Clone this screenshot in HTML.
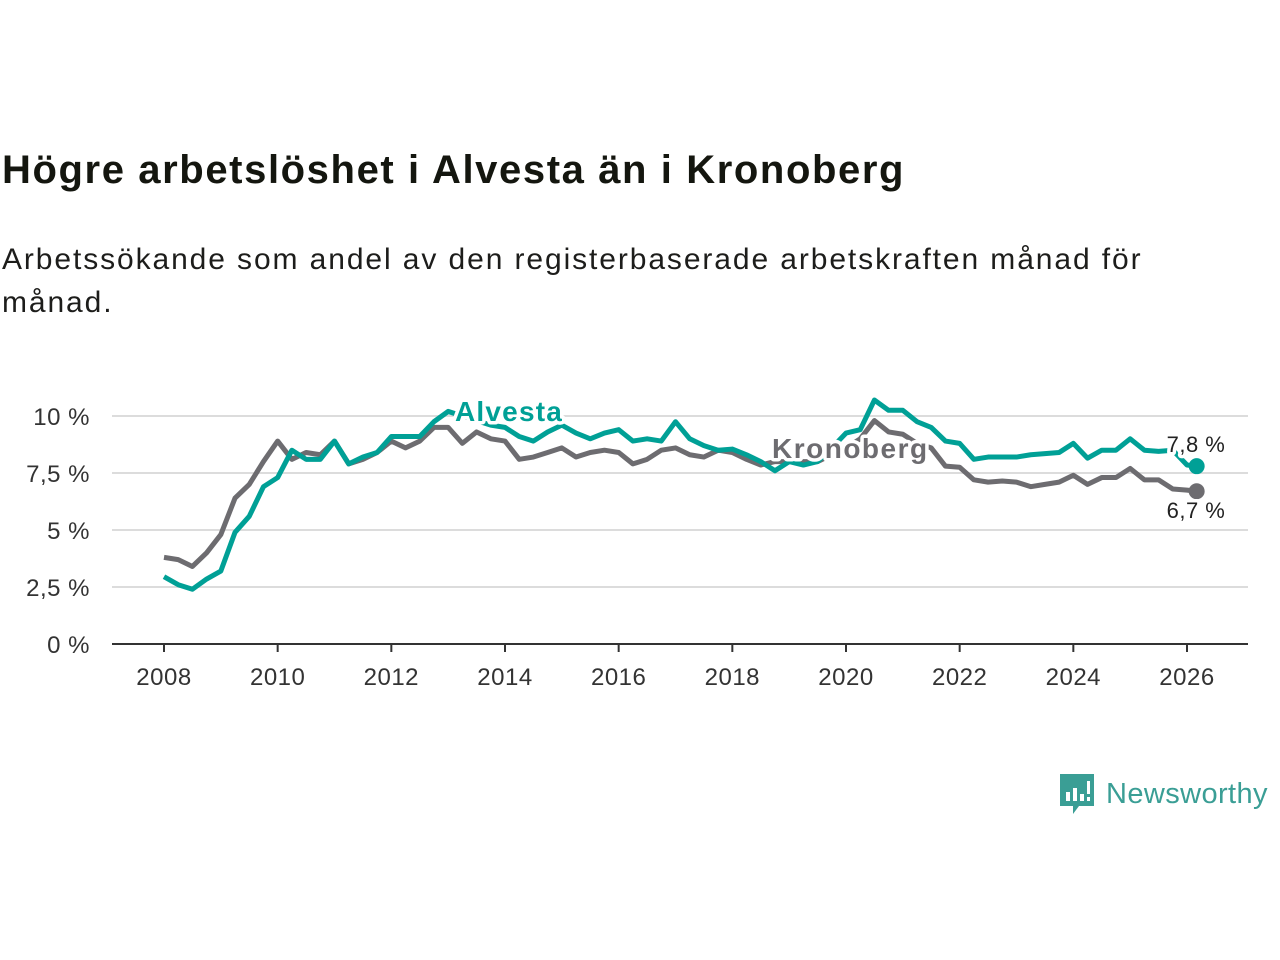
<!DOCTYPE html>
<html><head><meta charset="utf-8"><style>
body{margin:0;width:1280px;height:960px;background:#fff;font-family:"Liberation Sans","DejaVu Sans",sans-serif;overflow:hidden}
#title{position:absolute;left:2px;top:148px;font-size:40px;font-weight:bold;color:#14160f;margin:0;letter-spacing:1.6px}
#sub{position:absolute;left:2px;top:238px;font-size:30px;color:#1d1d1b;line-height:43px;width:1200px;letter-spacing:1.9px}
svg{position:absolute;left:0;top:0}
</style></head><body>
<h1 id="title">Högre arbetslöshet i Alvesta än i Kronoberg</h1>
<div id="sub">Arbetssökande som andel av den registerbaserade arbetskraften månad för månad.</div>
<svg id="chart" width="1280" height="960"></svg>
<script>
const years=[2008,2010,2012,2014,2016,2018,2020,2022,2024,2026];
const yTicks=[0,2.5,5,7.5,10];
const yTickLabels=["0 %","2,5 %","5 %","7,5 %","10 %"];
const startYear=2008, step=0.25;
const kronoberg=[3.8,3.7,3.4,4.0,4.8,6.4,7.0,8.0,8.9,8.1,8.4,8.3,8.9,7.9,8.1,8.4,8.9,8.6,8.9,9.5,9.5,8.8,9.3,9.0,8.9,8.1,8.2,8.4,8.6,8.2,8.4,8.5,8.4,7.9,8.1,8.5,8.6,8.3,8.2,8.5,8.4,8.1,7.85,8.0,8.0,8.0,8.0,8.3,8.6,9.0,9.8,9.3,9.2,8.8,8.6,7.8,7.75,7.2,7.1,7.15,7.1,6.9,7.0,7.1,7.4,7.0,7.3,7.3,7.7,7.2,7.2,6.8,6.75];
const alvesta=[2.95,2.6,2.4,2.85,3.2,4.9,5.6,6.9,7.3,8.5,8.1,8.1,8.9,7.9,8.2,8.4,9.1,9.1,9.1,9.75,10.2,10.0,9.8,9.6,9.5,9.1,8.9,9.3,9.6,9.25,9.0,9.25,9.4,8.9,9.0,8.9,9.75,9.0,8.7,8.5,8.55,8.3,8.0,7.6,8.0,7.85,8.0,8.6,9.25,9.4,10.7,10.25,10.25,9.75,9.5,8.9,8.8,8.1,8.2,8.2,8.2,8.3,8.35,8.4,8.8,8.15,8.5,8.5,9.0,8.5,8.45,8.5,7.85];
const lastDate=2026.17, lastK=6.7, lastA=7.8;
const X=v=>164+(v-2008)*(1187-164)/18;
const Y=v=>644-v*22.8;
const svg=document.getElementById('chart');
const NS='http://www.w3.org/2000/svg';
function mk(t,a,p){const e=document.createElementNS(NS,t);for(const k in a)e.setAttribute(k,a[k]);(p||svg).appendChild(e);return e;}
yTicks.forEach((t,i)=>{
  if(t>0){const g=mk('line',{x1:112,x2:1248,y1:Y(t),y2:Y(t),stroke:'#dcdcdc','stroke-width':2});
  
  }
  const l=mk('text',{x:90,y:Y(t)+9,'text-anchor':'end','font-size':24,fill:'#333','letter-spacing':0.5});
  l.textContent=yTickLabels[i];
  
  
});
const ax=mk('line',{x1:112,x2:1248,y1:644,y2:644,stroke:'#333','stroke-width':2});


years.forEach(yv=>{
  const tk=mk('line',{x1:X(yv),x2:X(yv),y1:644,y2:652,stroke:'#333','stroke-width':2});
  
  
  const l=mk('text',{x:X(yv),y:685,'text-anchor':'middle','font-size':24,fill:'#333','letter-spacing':0.5});
  l.textContent=yv;
  
  
});
function line(arr,last,col,name){
  const pts=arr.map((v,i)=>X(startYear+i*step)+','+Y(v));
  pts.push(X(lastDate)+','+Y(last));
  const p=mk('polyline',{points:pts.join(' '),fill:'none',stroke:col,'stroke-width':5,'stroke-linejoin':'round'});
  
  
  const c=mk('circle',{cx:X(lastDate),cy:Y(last),r:8,fill:col});
  
  
}
line(kronoberg,lastK,'#6d6c70','kronoberg');
line(alvesta,lastA,'#00a096','alvesta');
function lab(txt,x,y,col,size,bold,name,anchor,ls){
  const t=mk('text',{x:x,y:y,'font-size':size,fill:col,'font-weight':bold?'bold':'normal',stroke:'#fff','stroke-width':7,'paint-order':'stroke','stroke-linejoin':'round','text-anchor':anchor||'start','letter-spacing':ls||0});
  t.textContent=txt;
  
  
}
lab('Alvesta',455,421,'#00a096',28,true,'alvesta-label','start',1.2);
lab('Kronoberg',772,458,'#6d6c70',28,true,'kronoberg-label','start',1.5);
lab('7,8 %',1196,452,'#222',22,false,'alvesta-end-value','middle',0.5);
lab('6,7 %',1196,518,'#222',22,false,'kronoberg-end-value','middle',0.5);
</script>
<div style="position:absolute;left:1059px;top:772px;height:44px;display:flex;align-items:center">
<svg width="36" height="44" style="position:static" viewBox="0 0 36 44"><path d="M1 2h34v32H20l-6 8v-8H1z" fill="#3a9e95"/><rect x="7" y="20" width="4" height="9" fill="#fff"/><rect x="14" y="16" width="4" height="13" fill="#fff"/><rect x="21" y="22" width="4" height="7" fill="#fff"/><rect x="28" y="9" width="3" height="13" fill="#fff"/><rect x="28" y="25" width="3" height="4" fill="#fff"/></svg>
<span style="font-size:29px;color:#3a9e95;margin-left:11px;letter-spacing:0.4px">Newsworthy</span></div>
</body></html>
